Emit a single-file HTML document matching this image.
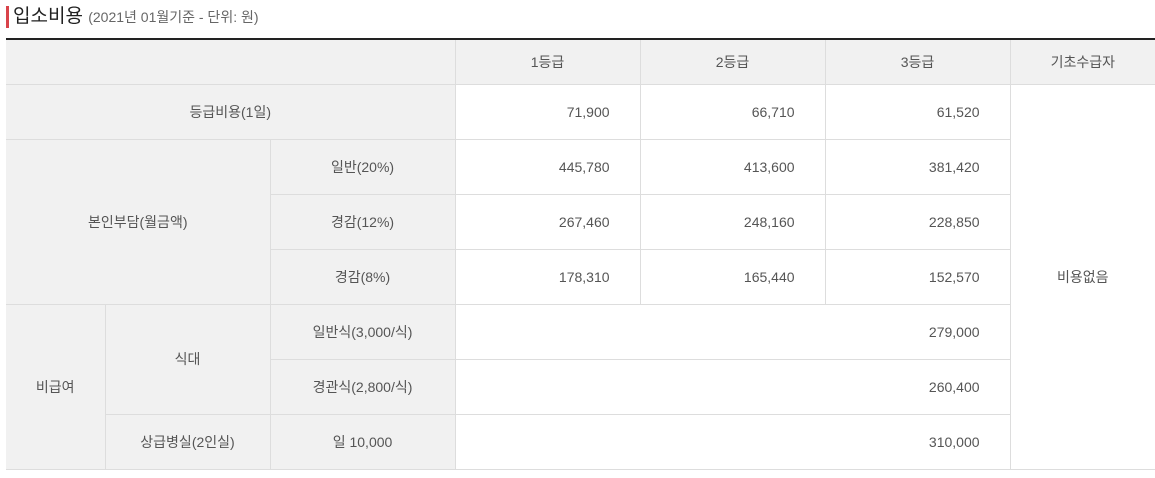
<!DOCTYPE html>
<html><head><meta charset="utf-8"><style>
body{margin:0;background:#fff;font-family:"Liberation Sans","Noto Sans CJK KR",sans-serif;color:#555;}
.t{position:absolute;left:6px;top:6px;font-size:19px;color:#222;border-left:3px solid #d9434a;padding-left:4px;line-height:22px;}
.t small{font-size:14px;color:#666;}
table{position:absolute;left:6px;top:38px;width:1149px;border-collapse:collapse;border-top:2px solid #222;font-size:14px;table-layout:fixed;}
td{border:1px solid #ddd;height:55px;text-align:center;padding:0;box-sizing:border-box;}
tr:first-child td{height:45px;border-top:none;}
td.h{background:#f1f1f1;}
td.n{text-align:right;padding-right:30px;}
td:last-child{border-right:none;}
td:first-child{border-left:none;}
</style></head><body>
<div class="t">입소비용 <small>(2021년 01월기준 - 단위: 원)</small></div>
<table>
<colgroup><col style="width:99px"><col style="width:165px"><col style="width:185px"><col style="width:185px"><col style="width:185px"><col style="width:185px"><col style="width:145px"></colgroup>
<tr><td class="h" colspan="3"></td><td class="h">1등급</td><td class="h">2등급</td><td class="h">3등급</td><td class="h">기초수급자</td></tr>
<tr><td class="h" colspan="3">등급비용(1일)</td><td class="n">71,900</td><td class="n">66,710</td><td class="n">61,520</td><td rowspan="7">비용없음</td></tr>
<tr><td class="h" colspan="2" rowspan="3">본인부담(월금액)</td><td class="h">일반(20%)</td><td class="n">445,780</td><td class="n">413,600</td><td class="n">381,420</td></tr>
<tr><td class="h">경감(12%)</td><td class="n">267,460</td><td class="n">248,160</td><td class="n">228,850</td></tr>
<tr><td class="h">경감(8%)</td><td class="n">178,310</td><td class="n">165,440</td><td class="n">152,570</td></tr>
<tr><td class="h" rowspan="3">비급여</td><td class="h" rowspan="2">식대</td><td class="h">일반식(3,000/식)</td><td class="n" colspan="3">279,000</td></tr>
<tr><td class="h">경관식(2,800/식)</td><td class="n" colspan="3">260,400</td></tr>
<tr><td class="h">상급병실(2인실)</td><td class="h">일 10,000</td><td class="n" colspan="3">310,000</td></tr>
</table>
</body></html>
